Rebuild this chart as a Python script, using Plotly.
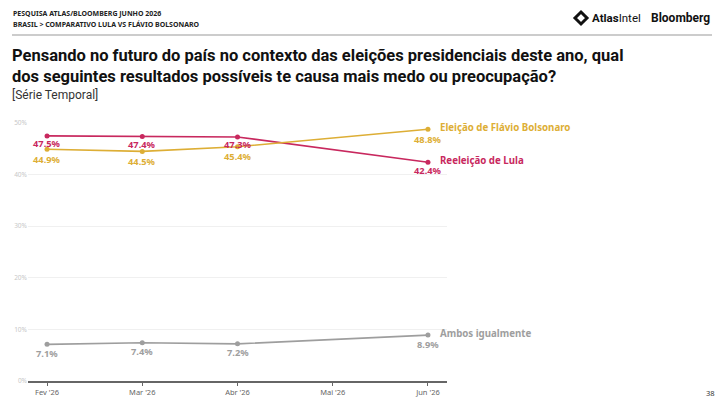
import plotly.graph_objects as go

months = ["Fev '26", "Mar '26", "Abr '26", "Mai '26", "Jun '26"]
lula = [47.5, 47.4, 47.3, None, 42.4]
flavio = [44.9, 44.5, 45.4, None, 48.8]
ambos = [7.1, 7.4, 7.2, None, 8.9]
series_names = ["Reeleição de Lula", "Eleição de Flávio Bolsonaro", "Ambos igualmente"]
colors = ["#C8285E", "#DDAE35", "#9E9E9E"]
label_shift = [-8, -10, -9]
yticks = [0, 10, 20, 30, 40, 50]

W, H = 724, 403
L, R, T, B = 28, 447, 123, 381

def px(x):
    return (x - L) / (R - L)

def py(y):
    return (B - y) / (B - T)

fig = go.Figure()
xs = list(range(len(months)))
for name, vals, col, sh in zip(series_names, [lula, flavio, ambos], colors, label_shift):
    pts_x = [x for x, v in zip(xs, vals) if v is not None]
    pts_y = [v for v in vals if v is not None]
    fig.add_trace(go.Scatter(
        x=pts_x, y=pts_y, mode="lines+markers",
        line=dict(color=col, width=1.6),
        marker=dict(color=col, size=5),
        name=name, showlegend=False, cliponaxis=False,
    ))
    for x, v in zip(pts_x, pts_y):
        fig.add_annotation(x=x, y=v, xref="x", yref="y", text=f"<b>{v:.1f}%</b>",
                           showarrow=False, xanchor="center", yanchor="middle",
                           yshift=sh, borderpad=0,
                           font=dict(family="Noto Sans", size=9.3, color=col))
    fig.add_annotation(x=pts_x[-1], y=pts_y[-1], xref="x", yref="y",
                       text=f"<b>{name}</b>", showarrow=False, xanchor="left",
                       xshift=10, yshift=2,
                       font=dict(family="Noto Sans", size=9.7, color=col))

fig.update_layout(
    width=W, height=H, margin=dict(l=L, r=W - R, t=T, b=H - B),
    paper_bgcolor="white", plot_bgcolor="white",
    xaxis=dict(range=[-0.2, 4.2], tickmode="array", tickvals=xs, ticktext=months,
               showgrid=False, zeroline=False, showline=True, linecolor="#666", linewidth=1.5,
               ticks="outside", ticklen=3, tickcolor="#666", automargin=False,
               tickfont=dict(family="Noto Sans", size=7.5, color="#666")),
    yaxis=dict(range=[0, 50], tickmode="array", tickvals=yticks, automargin=False,
               ticktext=[f"{v}%" for v in yticks], showgrid=True, gridcolor="#f0f0f0",
               zeroline=False, showline=False,
               tickfont=dict(family="Noto Sans", size=6.5, color="#c8c8c8")),
)

def txt(x, y, text, size, color="#111", family="Noto Sans", xanchor="left"):
    fig.add_annotation(x=px(x), y=py(y), xref="paper", yref="paper", text=text,
                       showarrow=False, xanchor=xanchor, yanchor="middle",
                       font=dict(family=family, size=size, color=color))

txt(11, 14, "<b>PESQUISA ATLAS/BLOOMBERG JUNHO 2026</b>", 7, "#222")
txt(11, 24, "<b>BRASIL > COMPARATIVO LULA VS FLÁVIO BOLSONARO</b>", 7, "#222")
txt(10, 55, "<b>Pensando no futuro do país no contexto das eleições presidenciais deste ano, qual</b>", 16.5, "#111", "Roboto")
txt(10, 77, "<b>dos seguintes resultados possíveis te causa mais medo ou preocupação?</b>", 16.5, "#111", "Roboto")
txt(10, 95, "[Série Temporal]", 12, "#333", "Roboto")
txt(590, 18, "<b>Atlas</b>Intel", 11.5, "#111", "Roboto")
txt(712, 18, "<b>Bloomberg</b>", 12, "#111", "Roboto", xanchor="right")
txt(717, 393, "38", 7.5, "#333", "Noto Sans", xanchor="right")

fig.add_shape(type="line", xref="paper", yref="paper",
              x0=px(12), x1=px(712), y0=py(35), y1=py(35),
              line=dict(color="#999", width=1))
# AtlasIntel diamond icon
cx, cy, r = 581, 18, 6
path = f"M {px(cx)} {py(cy - r)} L {px(cx + r)} {py(cy)} L {px(cx)} {py(cy + r)} L {px(cx - r)} {py(cy)} Z"
fig.add_shape(type="path", xref="paper", yref="paper", path=path,
              line=dict(color="#111", width=3), fillcolor="white")

fig.write_html("out.html")
